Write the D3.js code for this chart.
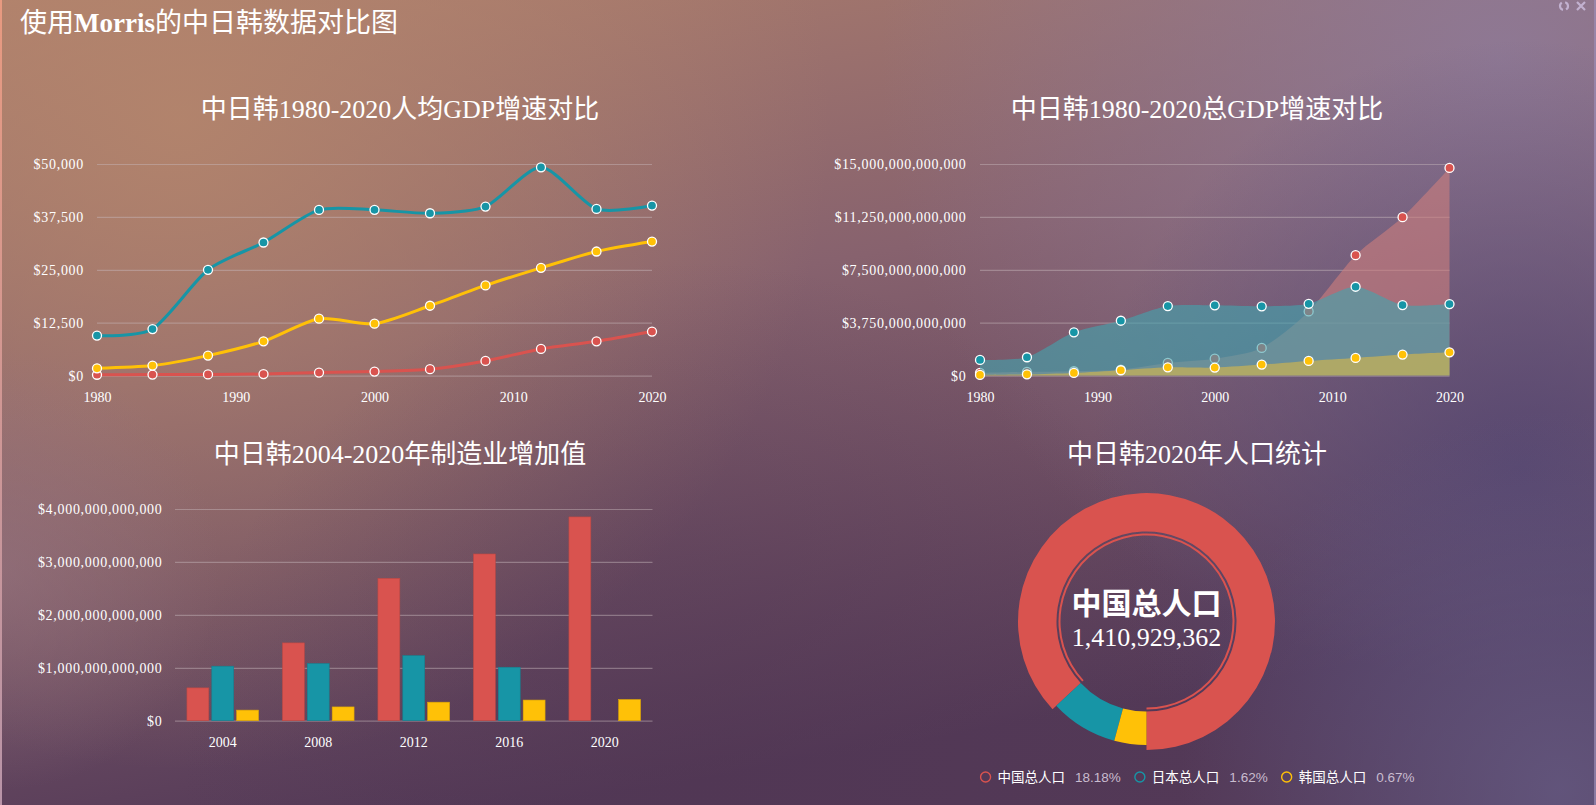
<!DOCTYPE html>
<html><head><meta charset="utf-8">
<script src="https://cdn.jsdelivr.net/npm/d3@7"></script>
<style>
html,body{margin:0;padding:0;overflow:hidden;background:#7a5a6a}
svg{display:block}
</style></head><body>
<svg id="c" width="1596" height="805"></svg>
<script>
// ---------- DATA ----------
const mainTitle = ["使用", "Morris", "的中日韩数据对比图"];
const chartTitles = ["中日韩1980-2020人均GDP增速对比", "中日韩1980-2020总GDP增速对比", "中日韩2004-2020年制造业增加值", "中日韩2020年人口统计"];
const years = [1980, 1984, 1988, 1992, 1996, 2000, 2004, 2008, 2012, 2016, 2020];
const yearTicks = [1980, 1990, 2000, 2010, 2020];
// GDP per capita (USD)
const pcChina = [195, 250, 283, 366, 709, 959, 1509, 3468, 6300, 8094, 10409];
const pcJapan = [9463, 11000, 25000, 31450, 39150, 39170, 38360, 39940, 49210, 39390, 40170];
const pcKorea = [1730, 2360, 4720, 8100, 13440, 12260, 16510, 21310, 25470, 29320, 31680];
const pcTicks = [0, 12500, 25000, 37500, 50000];
// total GDP (USD)
const gdpChina = [0.19e12, 0.26e12, 0.31e12, 0.43e12, 0.90e12, 1.20e12, 1.96e12, 4.55e12, 8.54e12, 11.23e12, 14.72e12];
const gdpJapan = [1.11e12, 1.30e12, 3.07e12, 3.89e12, 4.93e12, 4.98e12, 4.91e12, 5.09e12, 6.30e12, 5.00e12, 5.07e12];
const gdpKorea = [0.05e12, 0.09e12, 0.19e12, 0.38e12, 0.59e12, 0.57e12, 0.78e12, 1.04e12, 1.25e12, 1.49e12, 1.65e12];
const gdpTicks = [0, 3.75e12, 7.5e12, 11.25e12, 15e12];
// manufacturing value added (USD)
const mfgYears = ["2004", "2008", "2012", "2016", "2020"];
const mfgChina = [0.62e12, 1.47e12, 2.69e12, 3.15e12, 3.85e12];
const mfgJapan = [1.03e12, 1.08e12, 1.23e12, 1.01e12, null];
const mfgKorea = [0.20e12, 0.26e12, 0.35e12, 0.39e12, 0.40e12];
const mfgTicks = [0, 1e12, 2e12, 3e12, 4e12];
// population 2020
const popLabels = ["中国总人口", "日本总人口", "韩国总人口"];
const popDonut = [1410.9, 143.5, 68.2];   // ring shares as drawn (millions)
const popCenterValue = 1410929362;
const popShare = ["18.18%", "1.62%", "0.67%"];
const colors = ["#d9534f", "#1795a6", "#ffc107"];
const areaFills = ["#cf7f7d", "#41a5af", "#dcb946"];

// ---------- SETUP ----------
const W = 1596, H = 805;
const svg = d3.select("#c");
const defs = svg.append("defs");
const SERIF = '"Liberation Serif","Noto Sans CJK SC",serif';
const SANS = '"Liberation Sans","Noto Sans CJK SC",sans-serif';
const money = d3.format("$,.0f");

// background
const lg = defs.append("linearGradient").attr("id", "bg")
  .attr("x1", 0).attr("y1", 0).attr("x2", 0.35).attr("y2", 1);
[[0, "#ad7e6c"], [0.45, "#87626e"], [1, "#533957"]].forEach(s =>
  lg.append("stop").attr("offset", s[0]).attr("stop-color", s[1]));
svg.append("rect").attr("width", W).attr("height", H).attr("fill", "url(#bg)");
function radial(id, cx, cy, r, color, op) {
  const g = defs.append("radialGradient").attr("id", id).attr("gradientUnits", "userSpaceOnUse")
    .attr("cx", cx).attr("cy", cy).attr("r", r);
  g.append("stop").attr("offset", 0).attr("stop-color", color).attr("stop-opacity", op);
  g.append("stop").attr("offset", 1).attr("stop-color", color).attr("stop-opacity", 0);
  svg.append("rect").attr("width", W).attr("height", H).attr("fill", `url(#${id})`);
}
radial("r1", 180, 120, 650, "#b5866c", 0.85);
radial("r2", 1500, 60, 620, "#8e7a98", 0.9);
radial("r3", 1520, 470, 430, "#534570", 0.85);
radial("r4", 1560, 790, 380, "#655a82", 0.8);
radial("r5", 0, 570, 220, "#967480", 0.6);
radial("r6", 700, 780, 520, "#4f3552", 0.5);

// borders
const lb = defs.append("linearGradient").attr("id", "lb").attr("x1", 0).attr("y1", 0).attr("x2", 0).attr("y2", 1);
lb.append("stop").attr("offset", 0).attr("stop-color", "#e89a80");
lb.append("stop").attr("offset", 1).attr("stop-color", "#b894a8");
svg.append("rect").attr("x", 0).attr("y", 0).attr("width", 2).attr("height", H).attr("fill", "url(#lb)");
svg.append("rect").attr("x", W - 2).attr("y", 0).attr("width", 2).attr("height", H).attr("fill", "#9c8cb4").attr("opacity", 0.7);

// main title
const mt = svg.append("text").attr("x", 20).attr("y", 23).attr("dominant-baseline", "central")
  .attr("fill", "#fff").attr("font-family", SERIF).attr("font-size", 27);
mt.append("tspan").text(mainTitle[0]);
mt.append("tspan").attr("font-weight", "bold").text(mainTitle[1]);
mt.append("tspan").text(mainTitle[2]);

// icons top right
const ic = svg.append("g").attr("stroke", "#c8b8d8").attr("fill", "none").attr("stroke-width", 2.2).attr("opacity", 0.9);
ic.append("path").attr("d", d3.arc()({innerRadius: 4, outerRadius: 4, startAngle: 0.3, endAngle: 2.6})).attr("transform", "translate(1564,6)");
ic.append("path").attr("d", d3.arc()({innerRadius: 4, outerRadius: 4, startAngle: 3.4, endAngle: 5.7})).attr("transform", "translate(1564,6)");
ic.append("path").attr("d", "M1577,2 L1585,10 M1585,2 L1577,10");

function title(t, x, y) {
  svg.append("text").attr("x", x).attr("y", y).attr("text-anchor", "middle").attr("dominant-baseline", "central")
    .attr("fill", "#fff").attr("font-family", SERIF).attr("font-size", 26).text(t);
}
function yAxis(scale, ticks, x0, x1, pad) {
  const g = svg.append("g").attr("transform", `translate(${x0},0)`)
    .call(d3.axisLeft(scale).tickValues(ticks).tickFormat(money)
      .tickSizeInner(-(x1 - x0)).tickSizeOuter(0).tickPadding(pad));
  g.select(".domain").remove();
  g.selectAll("line").attr("stroke", "#c8b8bc").attr("stroke-opacity", 0.45).attr("stroke-width", 1.2);
  g.selectAll("text").attr("fill", "#fff").attr("font-family", SERIF).attr("font-size", 14)
    .attr("letter-spacing", "0.7px");
  return g;
}
function xAxis(axis, y) {
  const g = svg.append("g").attr("transform", `translate(0,${y})`).call(axis.tickSize(0).tickPadding(16));
  g.select(".domain").remove();
  g.selectAll("text").attr("fill", "#fff").attr("font-family", SERIF).attr("font-size", 14);
}
const smooth = d3.curveCardinal.tension(0.25);

// ---------- CHART 1: line ----------
title(chartTitles[0], 400, 109);
const x1 = d3.scaleLinear([1980, 2020], [97, 652]);
const y1 = d3.scaleLinear([0, 50000], [375.6, 164]);
yAxis(y1, pcTicks, 97, 652, 13);
xAxis(d3.axisBottom(x1).tickValues(yearTicks).tickFormat(d3.format("d")), 375.6);
const s1 = [pcChina, pcJapan, pcKorea];
const line1 = d3.line().x((d, i) => x1(years[i])).y(d => y1(d)).curve(smooth);
s1.forEach((s, k) => {
  svg.append("path").attr("d", line1(s)).attr("fill", "none").attr("stroke", colors[k]).attr("stroke-width", 3);
});
s1.forEach((s, k) => {
  svg.append("g").selectAll("circle").data(s).join("circle")
    .attr("cx", (d, i) => x1(years[i])).attr("cy", d => y1(d)).attr("r", 4.5)
    .attr("fill", colors[k]).attr("stroke", "#fff").attr("stroke-width", 1.3);
});

// ---------- CHART 2: area ----------
title(chartTitles[1], 1197, 109);
const x2 = d3.scaleLinear([1980, 2020], [980, 1449.5]);
const y2 = d3.scaleLinear([0, 15e12], [375.6, 164]);
yAxis(y2, gdpTicks, 980, 1449.5, 13.5);
xAxis(d3.axisBottom(x2).tickValues(yearTicks).tickFormat(d3.format("d")), 375.6);
const s2 = [gdpChina, gdpJapan, gdpKorea];
const area2 = d3.area().x((d, i) => x2(years[i])).y0(y2(0)).y1(d => y2(d)).curve(smooth);
s2.forEach((s, k) => {
  svg.append("path").attr("d", area2(s)).attr("fill", areaFills[k]).attr("fill-opacity", 0.6);
  svg.append("g").selectAll("circle").data(s).join("circle")
    .attr("cx", (d, i) => x2(years[i])).attr("cy", d => y2(d)).attr("r", 4.5)
    .attr("fill", colors[k]).attr("stroke", "#fff").attr("stroke-width", 1.3);
});

// ---------- CHART 3: bars ----------
title(chartTitles[2], 400, 454);
const x3 = d3.scaleBand(mfgYears, [175, 652.5]);
const y3 = d3.scaleLinear([0, 4e12], [720.7, 509]);
yAxis(y3, mfgTicks, 175, 652.5, 12.5);
xAxis(d3.axisBottom(x3), 720.7);
const series3 = ["cn", "jp", "kr"];
const xs = d3.scaleBand(series3, [x3.bandwidth() * 0.125, x3.bandwidth() * 0.875]).paddingInner(0.12);
[mfgChina, mfgJapan, mfgKorea].forEach((s, k) => {
  svg.append("g").selectAll("rect").data(s.map((v, i) => ({v, i})).filter(d => d.v != null)).join("rect")
    .attr("x", d => x3(mfgYears[d.i]) + xs(series3[k])).attr("width", xs.bandwidth())
    .attr("y", d => y3(d.v)).attr("height", d => y3(0) - y3(d.v))
    .attr("fill", colors[k]).attr("stroke", d3.color(colors[k]).darker(0.4)).attr("stroke-width", 0.6);
});

// ---------- CHART 4: donut ----------
title(chartTitles[3], 1197, 454);
const cx = 1146.5, cy = 621.5;
const pie = d3.pie().sort(null).startAngle(Math.PI).endAngle(-Math.PI)(popDonut);
const dg = svg.append("g").attr("transform", `translate(${cx},${cy})`);
dg.selectAll("path.seg").data(pie).join("path").attr("class", "seg")
  .attr("d", (d, i) => d3.arc().innerRadius(90).outerRadius(i === 0 ? 128.5 : 123.5)(d))
  .attr("fill", (d, i) => colors[i]);
dg.append("path").attr("d", d3.arc().innerRadius(86).outerRadius(88)(pie[0])).attr("fill", colors[0]);
dg.append("text").attr("y", -18).attr("text-anchor", "middle").attr("dominant-baseline", "central")
  .attr("fill", "#fff").attr("font-family", SERIF).attr("font-size", 30).attr("font-weight", "bold")
  .text(popLabels[0]);
dg.append("text").attr("y", 15.5).attr("text-anchor", "middle").attr("dominant-baseline", "central")
  .attr("fill", "#fff").attr("font-family", SERIF).attr("font-size", 26)
  .text(d3.format(",")(popCenterValue));

// legend
const lgG = svg.append("g");
let lx = 0;
popLabels.forEach((l, i) => {
  const it = lgG.append("g").attr("transform", `translate(${lx},0)`);
  it.append("circle").attr("cx", 5).attr("cy", 0).attr("r", 5).attr("fill", "none")
    .attr("stroke", colors[i]).attr("stroke-width", 1.4);
  const t1 = it.append("text").attr("x", 17).attr("dominant-baseline", "central").attr("fill", "#fff")
    .attr("font-family", SANS).attr("font-size", 13.5).text(l);
  const w1 = t1.node().getComputedTextLength();
  const t2 = it.append("text").attr("x", 17 + w1 + 10).attr("dominant-baseline", "central").attr("fill", "#c9bccf")
    .attr("font-family", SANS).attr("font-size", 13.5).text(popShare[i]);
  const w2 = t2.node().getComputedTextLength();
  lx += 17 + w1 + 10 + w2 + 14;
});
const totalW = lx - 14;
lgG.attr("transform", `translate(${1197.5 - totalW / 2},777)`);
</script>
</body></html>
